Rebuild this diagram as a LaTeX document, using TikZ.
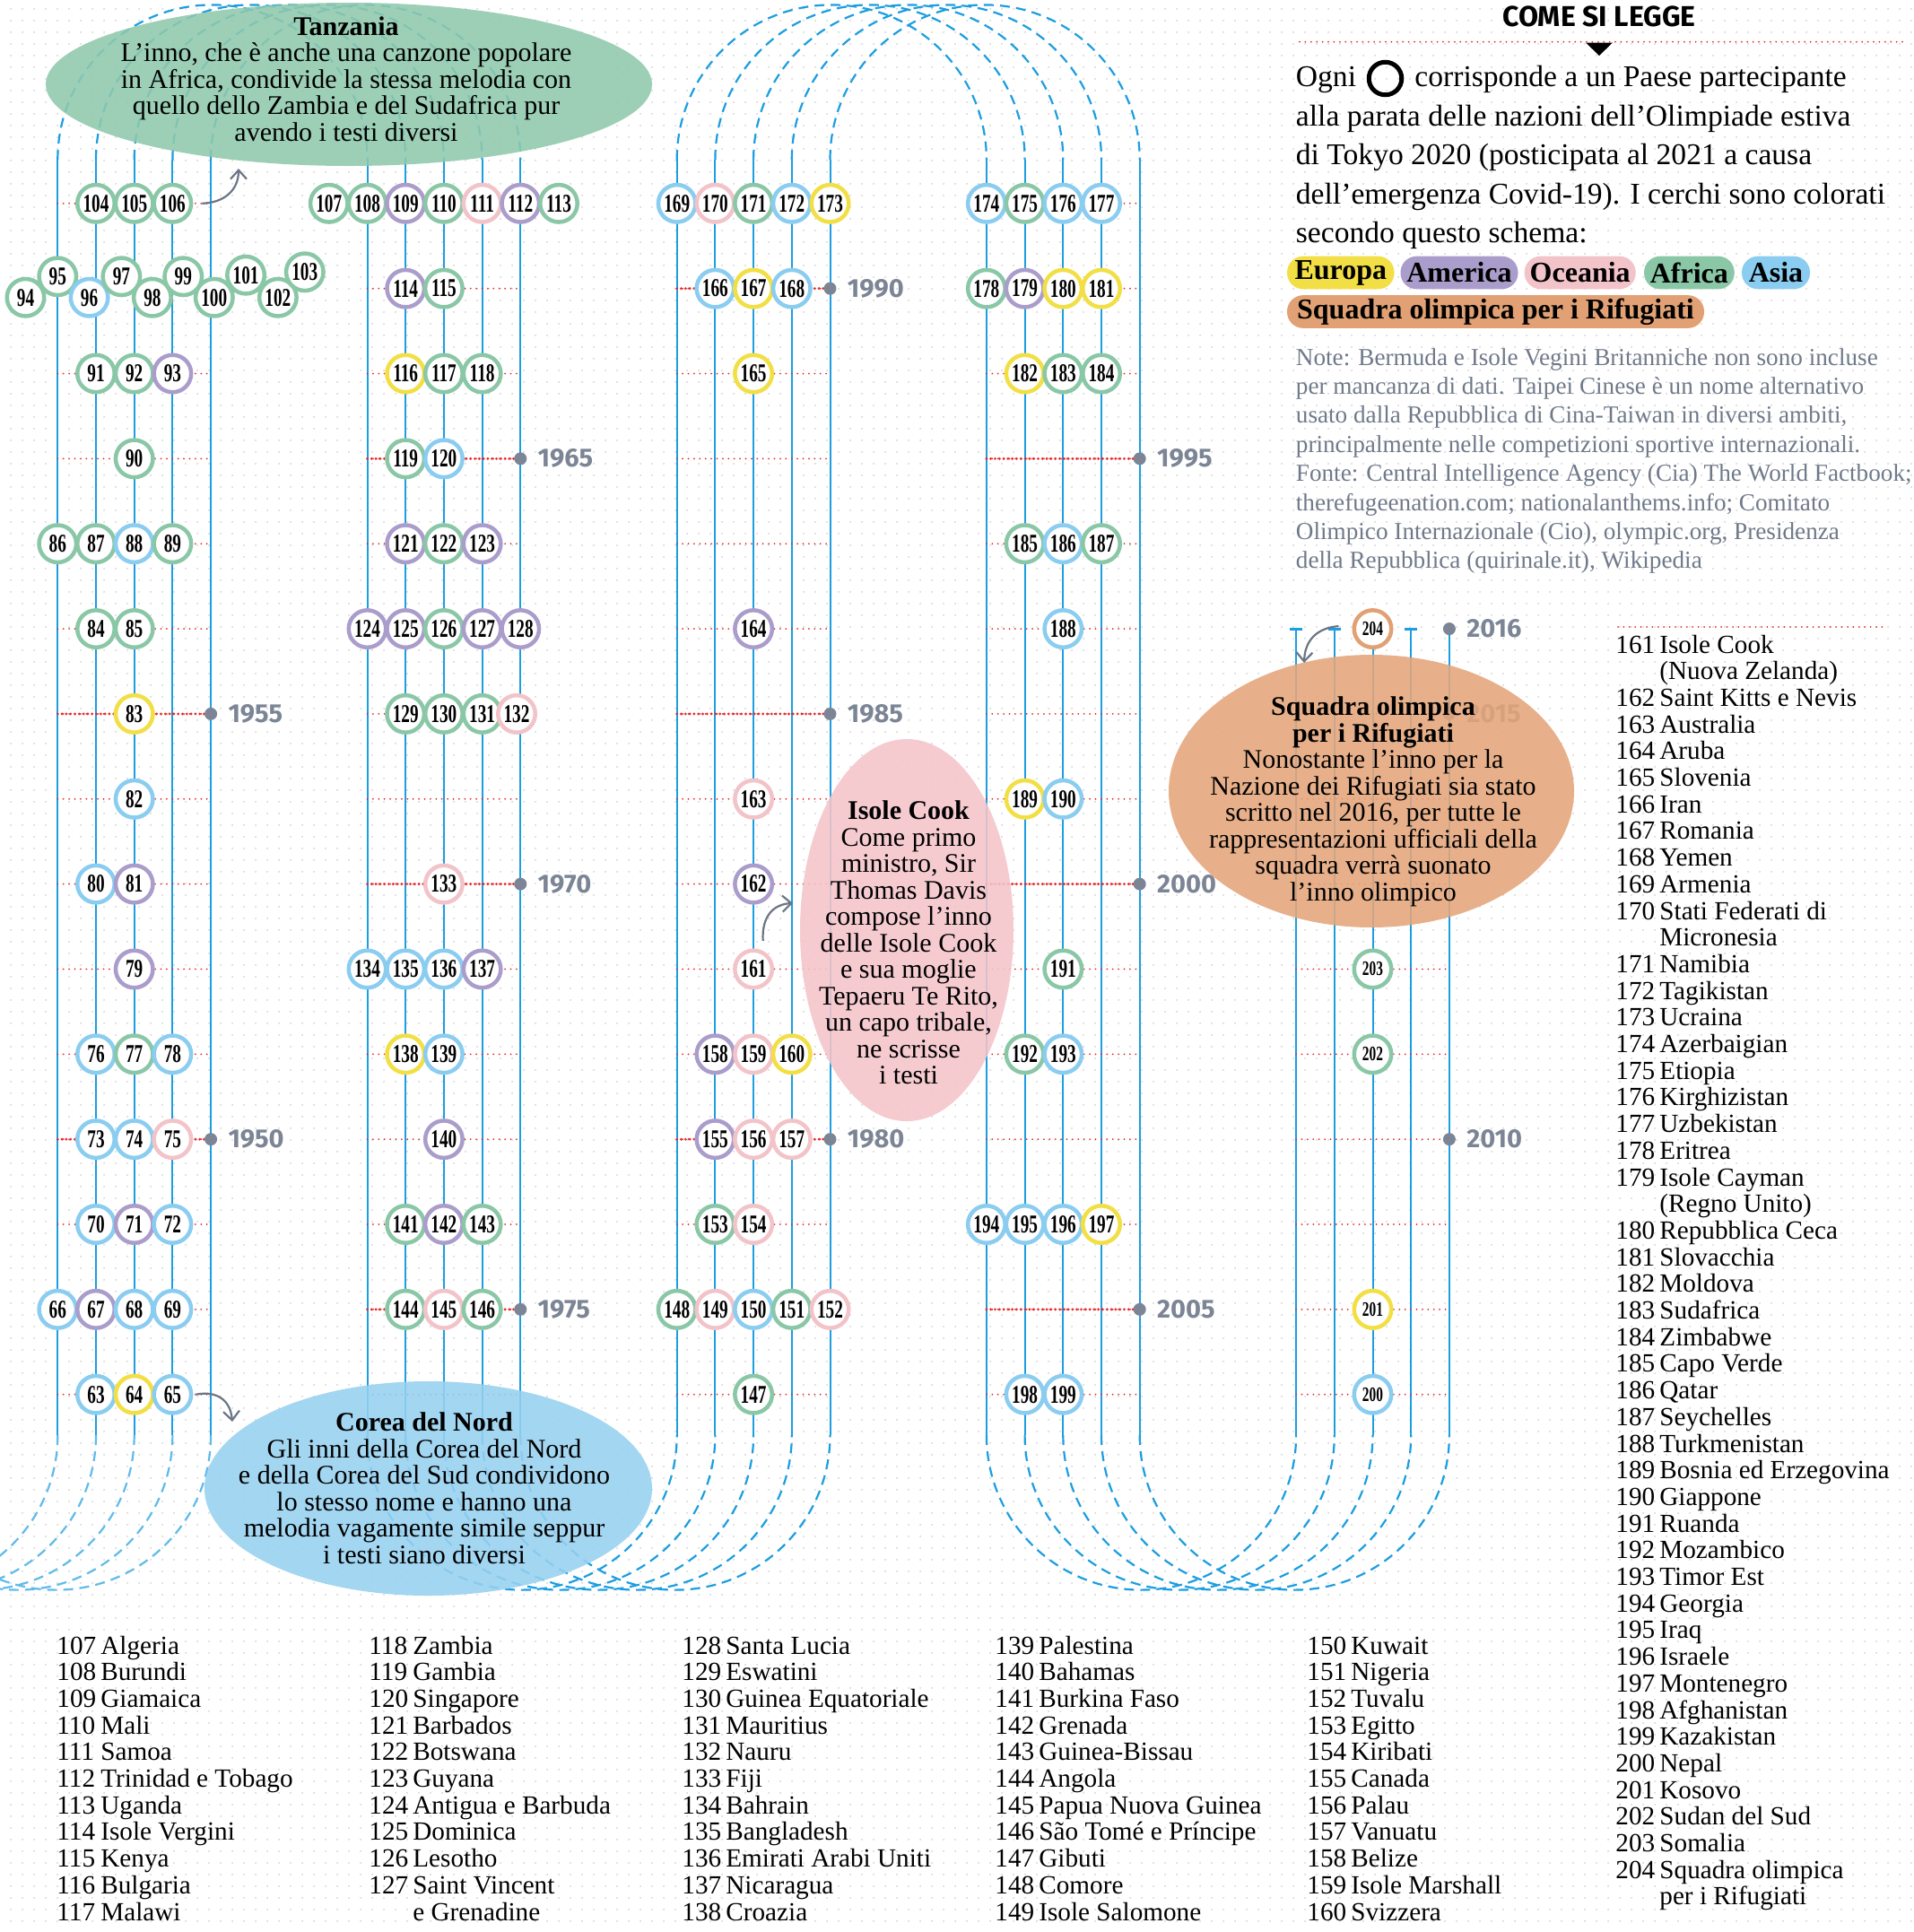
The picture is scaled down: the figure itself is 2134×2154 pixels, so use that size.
\documentclass[tikz,border=0pt]{standalone}
\usepackage{graphicx}
\usepackage{fontspec}
\setmainfont{Liberation Serif}
\newfontfamily\sansf{Fira Sans}
\usetikzlibrary{shapes.geometric,arrows.meta,patterns.meta}
\definecolor{cY}{HTML}{F2DF45}
\definecolor{cP}{HTML}{AB9DCB}
\definecolor{cK}{HTML}{F2C3C8}
\definecolor{cG}{HTML}{8AC7A6}
\definecolor{cB}{HTML}{8ACDF0}
\definecolor{cO}{HTML}{E1A174}
\definecolor{lineblue}{HTML}{1C9EE0}
\definecolor{dotred}{HTML}{E62A2A}
\definecolor{yeargray}{HTML}{7C8595}
\definecolor{notegray}{HTML}{6F7989}
\definecolor{arrowgray}{HTML}{6B7585}
\definecolor{elG}{HTML}{8FC9AD}
\definecolor{elB}{HTML}{97D1F0}
\definecolor{elK}{HTML}{F4C4CA}
\definecolor{elO}{HTML}{E4A67B}
\newcommand\cnum[1]{\scalebox{0.74}[1.1]{\bfseries #1}}
\newcommand\PX[2]{64.3+345.2*(#1)+42.7*(#2)}
\newcommand\PY[1]{226.8+94.85*(#1)}
\begin{document}
\begin{tikzpicture}[x=0.5pt,y=-0.5pt,
 vline/.style={lineblue, line width=1pt},
 dashline/.style={lineblue, line width=1.1pt, dash pattern=on 5.5pt off 3.5pt},
 reddots/.style={dotred, line width=1pt, line cap=round, dash pattern=on 0pt off 3.2pt},
 redbold/.style={dotred, line width=1.6pt, line cap=round, dash pattern=on 0pt off 2.4pt},
 cnode/.style={circle, fill=white, line width=2.25pt, minimum size=20.75pt, inner sep=0pt, font=\fontsize{13}{13}\selectfont},
 yeardot/.style={circle, fill=yeargray, minimum size=7pt, inner sep=0pt},
 yearlab/.style={anchor=west, inner sep=0pt, text=yeargray, font=\sansf\bfseries\fontsize{14.5}{14.5}\selectfont},
 callout/.style={align=center, inner sep=0pt, font=\fontsize{15}{14.75}\selectfont},
 bubble/.style={ellipse, fill opacity=0.88, inner sep=0pt},
 ptr/.style={arrowgray, line width=1.1pt, -{Straight Barb[length=5pt,width=9pt]}},
 listtxt/.style={anchor=base west, inner sep=0pt, font=\fontsize{14.6}{14.6}\selectfont},
 legtxt/.style={anchor=base west, inner sep=0pt, font=\fontsize{16.8}{16.8}\selectfont},
 notetxt/.style={anchor=base west, inner sep=0pt, text=notegray, font=\fontsize{13.6}{13.6}\selectfont},
 pill/.style={rounded corners=9pt, minimum height=18.35pt, inner sep=0pt, font=\bfseries\fontsize{16}{16}\selectfont}
]
\useasboundingbox (0,0) rectangle (2134,2154);
\fill[white] (0,0) rectangle (2134,2154);
\fill[pattern={Dots[distance=6.5pt,radius=0.5pt]}, pattern color=black!20] (0,0) rectangle (2134,2154);

\begin{scope}
\clip (0,0) rectangle (2134,2154);
% vertical lines
\foreach \bb in {0,...,3} \foreach \cc in {0,...,4}
  \draw[vline] ({\PX{\bb}{\cc}},178) -- ({\PX{\bb}{\cc}},1600);
\foreach \cc in {0,...,4} \draw[vline] ({\PX{4}{\cc}},701) -- ({\PX{4}{\cc}},1600);
\foreach \cc in {0,1,3} \draw[lineblue, line width=1.5pt] ({\PX{4}{\cc}-7},701) -- ({\PX{4}{\cc}+7},701);
% dashed arcs
\foreach \cc in {0,...,4} {
  \draw[dashline] ({\PX{0}{\cc}},178) arc[start angle=180,end angle=360,radius=172.6];
  \draw[dashline] ({\PX{2}{\cc}},178) arc[start angle=180,end angle=360,radius=172.6];
  \draw[dashline] ({\PX{1}{\cc}},1600) arc[start angle=180,end angle=0,radius=172.6];
  \draw[dashline] ({\PX{3}{\cc}},1600) arc[start angle=180,end angle=0,radius=172.6];
  \draw[dashline, lineblue!70] ({\PX{0}{\cc}},1600) arc[start angle=0,end angle=180,radius=172.6];
}
\end{scope}

% red dotted rows
\foreach \bb in {0,...,3} \foreach \rr in {0,...,14}
  \draw[reddots] ({\PX{\bb}{0}},{\PY{\rr}}) -- ({\PX{\bb}{4}},{\PY{\rr}});
\foreach \rr in {6,...,14}
  \draw[reddots] ({\PX{4}{0}},{\PY{\rr}}) -- ({\PX{4}{4}},{\PY{\rr}});
\foreach \bb/\rr in {0/6,0/11,1/3,1/8,1/13,2/1,2/6,2/11,3/3,3/8,3/13}
  \draw[redbold] ({\PX{\bb}{0}},{\PY{\rr}}) -- ({\PX{\bb}{4}},{\PY{\rr}});

% years
\foreach \bb/\rr/\yr in {0/6/1955,0/11/1950,1/3/1965,1/8/1970,1/13/1975,2/1/1990,2/6/1985,2/11/1980,3/3/1995,3/8/2000,3/13/2005,4/5/2016,4/6/2015,4/11/2010} {
  \node[yeardot] (yd\yr) at ({\PX{\bb}{4}},{\PY{\rr}}) {};
  \node[yearlab] (yl\yr) at ({\PX{\bb}{4}+19},{\PY{\rr}}) {\yr};
}

% circles
\foreach \bb/\rr/\cc/\nn/\cl in {
0/0/1/104/G,0/0/2/105/G,0/0/3/106/G,
0/2/1/91/G,0/2/2/92/G,0/2/3/93/P,
0/3/2/90/G,
0/4/0/86/G,0/4/1/87/G,0/4/2/88/B,0/4/3/89/G,
0/5/1/84/G,0/5/2/85/G,
0/6/2/83/Y,
0/7/2/82/B,
0/8/1/80/B,0/8/2/81/P,
0/9/2/79/P,
0/10/1/76/B,0/10/2/77/G,0/10/3/78/B,
0/11/1/73/B,0/11/2/74/B,0/11/3/75/K,
0/12/1/70/B,0/12/2/71/P,0/12/3/72/B,
0/13/0/66/B,0/13/1/67/P,0/13/2/68/B,0/13/3/69/B,
0/14/1/63/B,0/14/2/64/Y,0/14/3/65/B,
1/0/-1/107/G,1/0/0/108/G,1/0/1/109/P,1/0/2/110/G,1/0/3/111/K,1/0/4/112/P,1/0/5/113/G,
1/1/1/114/P,1/1/2/115/G,
1/2/1/116/Y,1/2/2/117/G,1/2/3/118/G,
1/3/1/119/G,1/3/2/120/B,
1/4/1/121/P,1/4/2/122/G,1/4/3/123/P,
1/5/0/124/P,1/5/1/125/P,1/5/2/126/G,1/5/3/127/P,1/5/4/128/P,
1/6/1/129/G,1/6/2/130/G,1/6/3/131/G,1/6/3.9/132/K,
1/8/2/133/K,
1/9/0/134/B,1/9/1/135/B,1/9/2/136/B,1/9/3/137/P,
1/10/1/138/Y,1/10/2/139/B,
1/11/2/140/P,
1/12/1/141/G,1/12/2/142/P,1/12/3/143/G,
1/13/1/144/G,1/13/2/145/K,1/13/3/146/G,
2/0/0/169/B,2/0/1/170/K,2/0/2/171/G,2/0/3/172/B,2/0/4/173/Y,
2/1/1/166/B,2/1/2/167/Y,2/1/3/168/B,
2/2/2/165/Y,
2/5/2/164/P,
2/7/2/163/K,
2/8/2/162/P,
2/9/2/161/K,
2/10/1/158/P,2/10/2/159/K,2/10/3/160/Y,
2/11/1/155/P,2/11/2/156/K,2/11/3/157/K,
2/12/1/153/G,2/12/2/154/K,
2/13/0/148/G,2/13/1/149/K,2/13/2/150/B,2/13/3/151/G,2/13/4/152/K,
2/14/2/147/G,
3/0/0/174/B,3/0/1/175/G,3/0/2/176/B,3/0/3/177/B,
3/1/0/178/G,3/1/1/179/P,3/1/2/180/Y,3/1/3/181/Y,
3/2/1/182/Y,3/2/2/183/G,3/2/3/184/G,
3/4/1/185/G,3/4/2/186/B,3/4/3/187/G,
3/5/2/188/B,
3/7/1/189/Y,3/7/2/190/B,
3/9/2/191/G,
3/10/1/192/G,3/10/2/193/B,
3/12/0/194/B,3/12/1/195/B,3/12/2/196/B,3/12/3/197/Y,
3/14/1/198/B,3/14/2/199/B}
  \node[cnode, draw=c\cl] (n\nn) at ({\PX{\bb}{\cc}},{\PY{\rr}}) {\cnum{\nn}};
\foreach \nn/\xx/\yy/\cl in {94/28.5/331.7/G,95/64.3/308.3/G,96/99.6/331.7/B,97/135.4/308.3/G,98/169.9/331.7/G,99/204.3/308.3/G,100/238.8/331.7/G,101/274.1/306.7/G,102/309.9/331.7/G,103/339.8/303.3/G}
  \node[cnode, draw=c\cl] (n\nn) at (\xx,\yy) {\cnum{\nn}};
\foreach \rr/\nn/\cl in {5/204/O,9/203/G,10/202/G,13/201/Y,14/200/B}
  \node[cnode, draw=c\cl] (n\nn) at ({\PX{4}{2}},{\PY{\rr}}) {\scalebox{0.8}{\cnum{\nn}}};

% callout bubbles
\node[bubble, fill=elG, minimum width=338pt, minimum height=91pt] (tanz) at (389,94) {};
\node[callout] (ttanz) at (386,88) {{\bfseries Tanzania}\\L’inno, che è anche una canzone popolare\\in Africa, condivide la stessa melodia con\\quello dello Zambia e del Sudafrica pur\\avendo i testi diversi};
\node[bubble, fill=elB, minimum width=249.5pt, minimum height=119.5pt] (corea) at (477.5,1659.5) {};
\node[callout] (tcorea) at (473,1659) {{\bfseries Corea del Nord}\\Gli inni della Corea del Nord\\e della Corea del Sud condividono\\lo stesso nome e hanno una\\melodia vagamente simile seppur\\i testi siano diversi};
\node[bubble, fill=elK, minimum width=119pt, minimum height=213pt] (cook) at (1011,1037) {};
\node[callout] (tcook) at (1013,1051) {{\bfseries Isole Cook}\\Come primo\\ministro, Sir\\Thomas Davis\\compose l’inno\\delle Isole Cook\\e sua moglie\\Tepaeru Te Rito,\\un capo tribale,\\ne scrisse\\i testi};
\node[bubble, fill=elO, minimum width=226pt, minimum height=152pt] (squad) at (1529,882) {};
\node[callout] (tsquad) at (1531,894) {{\bfseries Squadra olimpica}\\{\bfseries per i Rifugiati}\\Nonostante l’inno per la\\Nazione dei Rifugiati sia stato\\scritto nel 2016, per tutte le\\rappresentazioni ufficiali della\\squadra verrà suonato\\l’inno olimpico};

% pointers
\coordinate (a1e) at (266,188);
\coordinate (a2e) at (259,1585);
\coordinate (a3e) at (884,1007);
\coordinate (a4e) at (1454,739);
\draw[ptr] ([xshift=5pt]n106.east) .. controls (250,226) and (266,212) .. (a1e);
\draw[ptr] ([xshift=1.5pt]n65.east) .. controls (243,1550) and (257,1562) .. (a2e);
\draw[ptr] ([xshift=5.3pt,yshift=4.25pt]n161.north) .. controls (849,1022) and (862,1008) .. (a3e);
\draw[ptr] ([xshift=-7.5pt,yshift=1.5pt]n204.west) .. controls (1470,700) and (1455,712) .. (a4e);

% legend
\node[anchor=base, inner sep=0pt, font=\sansf\bfseries\fontsize{16}{16}\selectfont] (come) at (1783,29) {COME SI LEGGE};
\draw[reddots] (1449,46.7) -- (2125,46.7);
\fill (1768,47.5) -- (1798,47.5) -- (1783,62) -- cycle;
\node[legtxt] (lg1a) at (1444.5,96.5) {Ogni};
\node[circle, draw=black, line width=2.5pt, minimum size=18.25pt, inner sep=0pt] (oring) at (1544.5,87.5) {};
\node[legtxt] (lg1b) at (1577,96.5) {corrisponde a un Paese partecipante};
\node[legtxt] (lg2) at (1444.5,140) {alla parata delle nazioni dell’Olimpiade estiva};
\node[legtxt] (lg3) at (1444.5,183.5) {di Tokyo 2020 (posticipata al 2021 a causa};
\node[legtxt] (lg4) at (1444.5,227) {dell’emergenza Covid-19). I cerchi sono colorati};
\node[legtxt] (lg5) at (1444.5,270.5) {secondo questo schema:};
\node[pill, fill=cY, minimum width=59.75pt] (pE) at (1494.8,304) {Europa};
\node[pill, fill=cP, minimum width=65.5pt] (pA) at (1627,304) {America};
\node[pill, fill=cK, minimum width=62pt] (pO) at (1761.7,304) {Oceania};
\node[pill, fill=cG, minimum width=50.35pt] (pF) at (1883.4,304) {Africa};
\node[pill, fill=cB, minimum width=38pt] (pS) at (1980,304) {Asia};
\node[pill, fill=cO, minimum width=232.5pt] (pR) at (1667.5,347.5) {Squadra olimpica per i Rifugiati};
\foreach \ln [count=\k from 0] in {{Note: Bermuda e Isole Vegini Britanniche non sono incluse},{per mancanza di dati. Taipei Cinese è un nome alternativo},{usato dalla Repubblica di Cina-Taiwan in diversi ambiti,},{principalmente nelle competizioni sportive internazionali.},{Fonte: Central Intelligence Agency (Cia) The World Factbook;},{therefugeenation.com; nationalanthems.info; Comitato},{Olimpico Internazionale (Cio), olympic.org, Presidenza},{della Repubblica (quirinale.it), Wikipedia}}
  \node[notetxt] (nt\k) at (1444.5,{407+32.4*\k}) {\ln};

% right list
\draw[reddots] (1804,699) -- (2104,699);
\foreach \nn/\nm [count=\k from 0] in {161/Isole Cook,/(Nuova Zelanda),162/Saint Kitts e Nevis,163/Australia,164/Aruba,165/Slovenia,166/Iran,167/Romania,168/Yemen,169/Armenia,170/Stati Federati di,/Micronesia,171/Namibia,172/Tagikistan,173/Ucraina,174/Azerbaigian,175/Etiopia,176/Kirghizistan,177/Uzbekistan,178/Eritrea,179/Isole Cayman,/(Regno Unito),180/Repubblica Ceca,181/Slovacchia,182/Moldova,183/Sudafrica,184/Zimbabwe,185/Capo Verde,186/Qatar,187/Seychelles,188/Turkmenistan,189/Bosnia ed Erzegovina,190/Giappone,191/Ruanda,192/Mozambico,193/Timor Est,194/Georgia,195/Iraq,196/Israele,197/Montenegro,198/Afghanistan,199/Kazakistan,200/Nepal,201/Kosovo,202/Sudan del Sud,203/Somalia,204/Squadra olimpica,/per i Rifugiati}
  \node[listtxt] (lr\k) at (1801,{728+29.7*\k}) {\makebox[24.5pt][l]{\nn}\nm};

% bottom lists
\foreach \nn/\nm [count=\k from 0] in {107/Algeria,108/Burundi,109/Giamaica,110/Mali,111/Samoa,112/Trinidad e Tobago,113/Uganda,114/Isole Vergini,115/Kenya,116/Bulgaria,117/Malawi}
  \node[listtxt] (la\k) at (63,{1844+29.7*\k}) {\makebox[24.5pt][l]{\nn}\nm};
\foreach \nn/\nm [count=\k from 0] in {118/Zambia,119/Gambia,120/Singapore,121/Barbados,122/Botswana,123/Guyana,124/Antigua e Barbuda,125/Dominica,126/Lesotho,127/Saint Vincent,/e Grenadine}
  \node[listtxt] (lb\k) at (411,{1844+29.7*\k}) {\makebox[24.5pt][l]{\nn}\nm};
\foreach \nn/\nm [count=\k from 0] in {128/Santa Lucia,129/Eswatini,130/Guinea Equatoriale,131/Mauritius,132/Nauru,133/Fiji,134/Bahrain,135/Bangladesh,136/Emirati Arabi Uniti,137/Nicaragua,138/Croazia}
  \node[listtxt] (lc\k) at (760,{1844+29.7*\k}) {\makebox[24.5pt][l]{\nn}\nm};
\foreach \nn/\nm [count=\k from 0] in {139/Palestina,140/Bahamas,141/Burkina Faso,142/Grenada,143/Guinea-Bissau,144/Angola,145/Papua Nuova Guinea,146/São Tomé e Príncipe,147/Gibuti,148/Comore,149/Isole Salomone}
  \node[listtxt] (ld\k) at (1109,{1844+29.7*\k}) {\makebox[24.5pt][l]{\nn}\nm};
\foreach \nn/\nm [count=\k from 0] in {150/Kuwait,151/Nigeria,152/Tuvalu,153/Egitto,154/Kiribati,155/Canada,156/Palau,157/Vanuatu,158/Belize,159/Isole Marshall,160/Svizzera}
  \node[listtxt] (le\k) at (1457,{1844+29.7*\k}) {\makebox[24.5pt][l]{\nn}\nm};
\end{tikzpicture}
\end{document}
